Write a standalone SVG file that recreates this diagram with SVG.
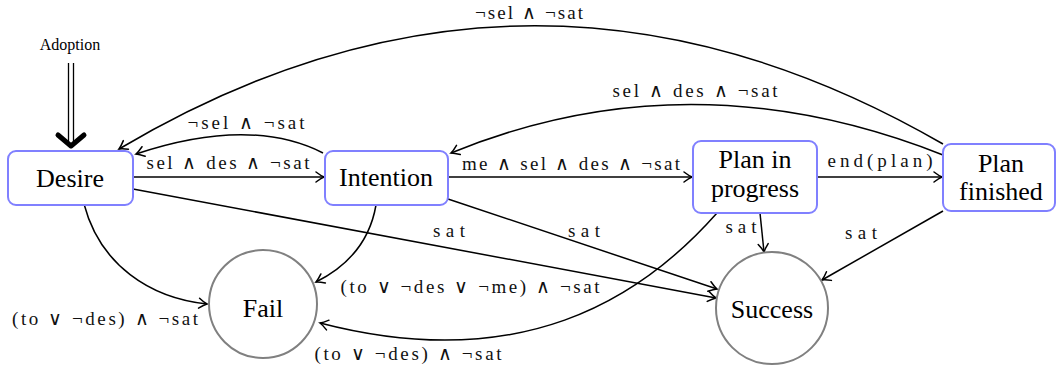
<svg xmlns="http://www.w3.org/2000/svg" width="1057" height="372" viewBox="0 0 1057 372">
<defs>
<marker id="arr" markerUnits="userSpaceOnUse" markerWidth="14" markerHeight="14" viewBox="-10 -7 14 14" refX="0" refY="0" orient="auto">
<path d="M -8 -5 Q -3 -1.2 0 0 Q -3 1.2 -8 5" fill="none" stroke="#000" stroke-width="1.5" stroke-linecap="round"/>
</marker>
</defs>
<style>
.box{fill:#fff;stroke:#8080ff;stroke-width:2}
.circ{fill:#fff;stroke:#808080;stroke-width:2}
.nt{font-family:"Liberation Serif",serif;font-size:26px;fill:#000;text-anchor:middle}
.lb{font-family:"Liberation Serif",serif;font-size:19px;fill:#111;text-anchor:middle}
.e{fill:none;stroke:#000;stroke-width:1.5;marker-end:url(#arr)}
</style>
<g id="connectors">
<path class="e" d="M 943 144 Q 530 -95 119 149"/>
<path class="e" d="M 943 155 Q 690 55 451 153"/>
<path class="e" d="M 323 153 Q 250 116 136 154"/>
<path class="e" d="M 133 177 L 324 177"/>
<path class="e" d="M 448 177 L 692 177"/>
<path class="e" d="M 817 177 L 942 177"/>
<path class="e" d="M 84 204 C 100 265 150 298 207 304"/>
<path class="e" d="M 376 205 C 370 240 350 265 316 282"/>
<path class="e" d="M 133 189 L 716 298"/>
<path class="e" d="M 448 199 L 717 289"/>
<path class="e" d="M 760 213 L 764 252"/>
<path class="e" d="M 943 211 L 822 280"/>
<path class="e" d="M 717 213 C 640 300 520 375 320 323"/>
</g>
<g id="adoption">
<text x="70" y="50" font-family="Liberation Serif,serif" font-size="16" text-anchor="middle">Adoption</text>
<line x1="68.5" y1="63" x2="68.5" y2="141" stroke="#000" stroke-width="1.3"/>
<line x1="73.5" y1="63" x2="73.5" y2="141" stroke="#000" stroke-width="1.3"/>
<path d="M 58 135 L 71 146 L 84 135" fill="none" stroke="#000" stroke-width="5" stroke-linejoin="round" stroke-linecap="round"/>
</g>
<g id="labels">
<text class="lb" x="529" y="19" textLength="108" lengthAdjust="spacing">¬sel ∧ ¬sat</text>
<text class="lb" x="695" y="97" textLength="165" lengthAdjust="spacing">sel ∧ des ∧ ¬sat</text>
<text class="lb" x="246" y="129" textLength="117" lengthAdjust="spacing">¬sel ∧ ¬sat</text>
<text class="lb" x="228" y="169" textLength="163" lengthAdjust="spacing">sel ∧ des ∧ ¬sat</text>
<text class="lb" x="571" y="170" textLength="218" lengthAdjust="spacing">me ∧ sel ∧ des ∧ ¬sat</text>
<text class="lb" x="880" y="167" textLength="105" lengthAdjust="spacing">end(plan)</text>
<text class="lb" x="449" y="237" textLength="32" lengthAdjust="spacing">sat</text>
<text class="lb" x="584" y="237" textLength="32" lengthAdjust="spacing">sat</text>
<text class="lb" x="741" y="233" textLength="31" lengthAdjust="spacing">sat</text>
<text class="lb" x="861" y="239" textLength="32" lengthAdjust="spacing">sat</text>
<text class="lb" x="470" y="293" textLength="259" lengthAdjust="spacing">(to ∨ ¬des ∨ ¬me) ∧ ¬sat</text>
<text class="lb" x="105" y="325" textLength="186" lengthAdjust="spacing">(to ∨ ¬des) ∧ ¬sat</text>
<text class="lb" x="408" y="360" textLength="187" lengthAdjust="spacing">(to ∨ ¬des) ∧ ¬sat</text>
</g>
<g id="desire">
<rect class="box" x="8" y="151" width="125" height="54" rx="8"/>
<text class="nt" x="70" y="187">Desire</text>
</g>
<g id="intention">
<rect class="box" x="325" y="151" width="123" height="54" rx="8"/>
<text class="nt" x="386" y="186">Intention</text>
</g>
<g id="plan-in-progress">
<rect class="box" x="693" y="141" width="124" height="72" rx="8"/>
<text class="nt" x="755" y="168">Plan in</text>
<text class="nt" x="755" y="197">progress</text>
</g>
<g id="plan-finished">
<rect class="box" x="943" y="144" width="112" height="67" rx="8"/>
<text class="nt" x="1001" y="172">Plan</text>
<text class="nt" x="1001" y="200">finished</text>
</g>
<g id="fail">
<circle class="circ" cx="263" cy="304" r="54"/>
<text class="nt" x="263" y="317">Fail</text>
</g>
<g id="success">
<circle class="circ" cx="772" cy="308" r="56"/>
<text class="nt" x="772" y="318">Success</text>
</g>
</svg>
